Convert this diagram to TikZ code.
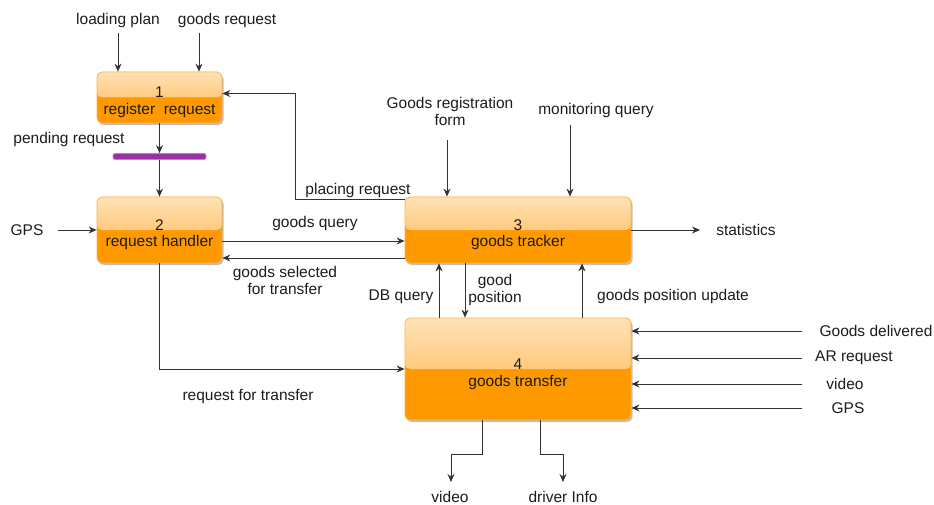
\documentclass[tikz,border=0pt]{standalone}
\usepackage{fontspec}
\setmainfont{Liberation Sans}
\definecolor{boxedge}{RGB}{255, 181, 74}
\definecolor{boxlight}{RGB}{255, 226, 182}
\definecolor{boxmid}{RGB}{255, 178, 70}
\definecolor{boxorange}{RGB}{255, 153, 0}
\definecolor{storefill}{RGB}{155, 48, 166}
\definecolor{storeedge}{RGB}{205, 120, 210}
\definecolor{linegray}{RGB}{51, 51, 51}
\definecolor{textgray}{RGB}{28, 28, 28}
\usetikzlibrary{arrows.meta, positioning, shadows}

\begin{document}
\begin{tikzpicture}[x={(1pt,0)}, y={(0,-1pt)},
  every node/.style={font=\fontsize{15.5}{17}\selectfont, text=textgray, align=center, inner sep=0pt},
  procbox/.style={draw=boxedge, line width=0.8pt, rounded corners=5pt, fill=boxorange,
    text height=34pt, text depth=0pt,
    drop shadow={shadow xshift=1.5pt, shadow yshift=-2pt, opacity=0.25, fill=black},
    path picture={\shade[top color=boxlight, bottom color=boxmid]
      (path picture bounding box.north west) rectangle (path picture bounding box.east);}},
  storebar/.style={draw=storeedge, fill=storefill, line width=0.8pt, rounded corners=2pt,
    minimum width=93pt, minimum height=6pt},
  flow/.style={draw=linegray, line width=1pt, -{Stealth[length=8pt, width=7pt]}}
]
  \useasboundingbox (0,0) rectangle (934,505);

  % Processes
  \node[procbox, minimum width=125pt, minimum height=51pt] (reg) at (159.5,97.5) {1\\register\ \ request};
  \node[procbox, minimum width=125pt, minimum height=66pt] (handler) at (159.5,230) {2\\request handler};
  \node[procbox, minimum width=226pt, minimum height=66pt] (tracker) at (518,230) {3\\goods tracker};
  \node[procbox, minimum width=226pt, minimum height=102pt] (transfer) at (518,369) {4\\goods transfer};

  % Data store
  \node[storebar] (pending) at (159.5,156.5) {};

  % Labels
  \node (loadplan) at (118,20) {loading plan};
  \node (goodsreq) at (227,20) {goods request};
  \node (pendlab) at (69,139) {pending request};
  \node (gpsleft) at (27,230) {GPS};
  \node (placing) at (358,190) {placing request};
  \node (gquery) at (315,223) {goods query};
  \node (gselect) at (285,280.5) {goods selected\\for transfer};
  \node (reqtrans) at (248,396) {request for transfer};
  \node (stats) at (746,230) {statistics};
  \node (regform) at (450,111.5) {Goods registration\\form};
  \node (monquery) at (596,110) {monitoring query};
  \node (dbquery) at (401,297) {DB query};
  \node (goodpos) at (495,289.5) {good\\position};
  \node (posupd) at (673,296) {goods position update};
  \node (delivered) at (876,331) {Goods delivered};
  \node (arreq) at (854,358) {AR request};
  \node (videoin) at (845,384) {video};
  \node (gpsright) at (848,408) {GPS};
  \node (videoout) at (450,497) {video};
  \node (driver) at (563,497) {driver Info};

  % Free ends
  \coordinate (loadplan-in) at (118,33);
  \coordinate (goodsreq-in) at (199,33);
  \coordinate (gpsleft-in) at (58,230);
  \coordinate (stats-out) at (700,230);
  \coordinate (regform-in) at (447,140);
  \coordinate (monquery-in) at (570,125);
  \coordinate (videoout-end) at (451,482);
  \coordinate (driver-end) at (563,482);

  % Inputs to register request
  \draw[flow] (loadplan-in) -- (loadplan-in |- reg.north);
  \draw[flow] (goodsreq-in) -- (goodsreq-in |- reg.north);
  \draw[flow] (reg.south) -- (pending.north);
  \draw[flow] (pending.south) -- (handler.north);
  \draw[flow] (gpsleft-in) -- (handler.west);

  % Between handler and tracker
  \draw[flow] ([yshift=-3pt]tracker.north west) -| ([xshift=73pt, yshift=4pt]reg.east) -- ([yshift=4pt]reg.east);
  \draw[flow] ([yshift=-11pt]handler.east) -- ([yshift=-11pt]handler.east -| tracker.west);
  \draw[flow] ([yshift=-28pt]tracker.west) -- ([yshift=-28pt]tracker.west -| handler.east);
  \draw[flow] (handler.south) |- (transfer.west);

  % Tracker
  \draw[flow] (tracker.east) -- (stats-out);
  \draw[flow] (regform-in) -- (regform-in |- tracker.north);
  \draw[flow] (monquery-in) -- (monquery-in |- tracker.north);
  \draw[flow] ([xshift=-79pt]transfer.north) -- ([xshift=-79pt]tracker.south);
  \draw[flow] ([xshift=-53pt]tracker.south) -- ([xshift=-53pt]transfer.north);
  \draw[flow] ([xshift=64pt]transfer.north) -- ([xshift=64pt]tracker.south);

  % Inputs to transfer
  \foreach \y in {331, 358, 384, 408} {
    \draw[flow] (802,\y) -- (transfer.east |- 0,\y);
  }

  % Outputs of transfer
  \draw[flow] ([xshift=-36pt]transfer.south) -- ++(0,34) -| (videoout-end);
  \draw[flow] ([xshift=22pt]transfer.south) -- ++(0,34) -| (driver-end);
\end{tikzpicture}
\end{document}
